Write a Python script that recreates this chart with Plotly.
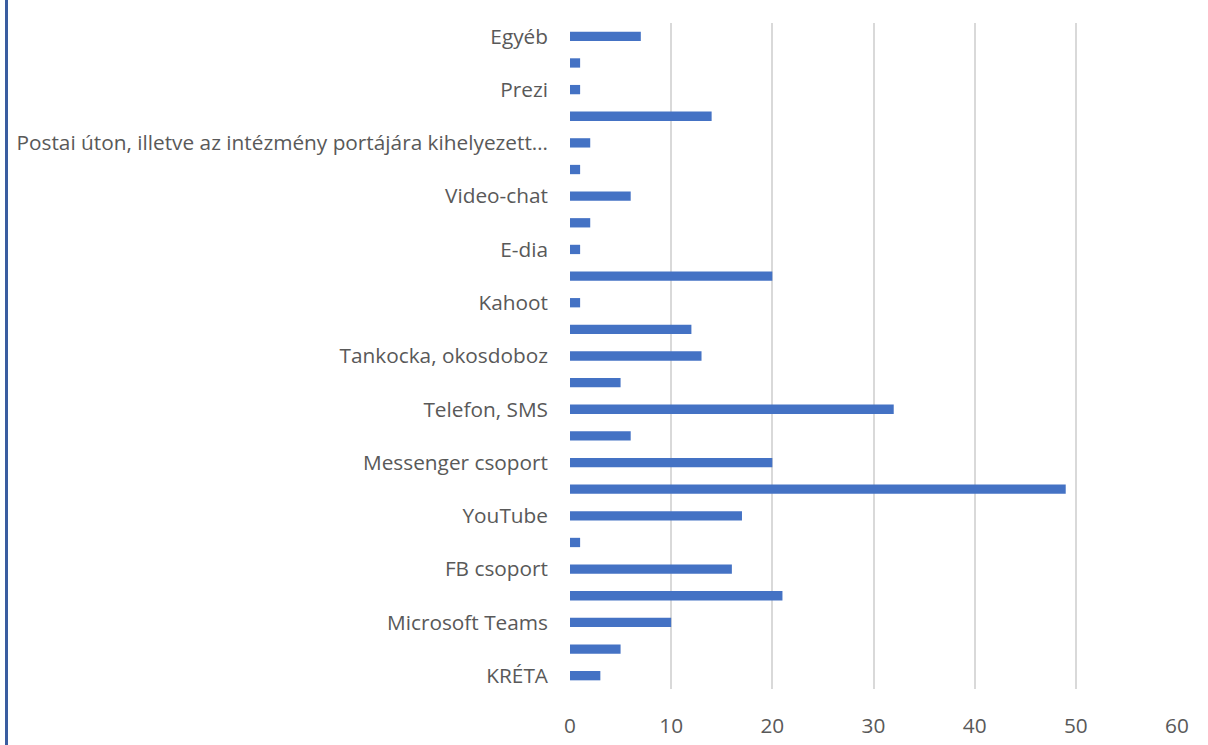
import plotly.graph_objects as go

# Rows from bottom to top; only every other row carries a visible label
labeled_categories = [
    "KRÉTA", "Microsoft Teams", "FB csoport", "YouTube", "Messenger csoport",
    "Telefon, SMS", "Tankocka, okosdoboz", "Kahoot", "E-dia", "Video-chat",
    "Postai úton, illetve az intézmény portájára kihelyezett…", "Prezi", "Egyéb",
]
values = [3, 5, 10, 21, 16, 1, 17, 49, 20, 6, 32, 5, 13, 12, 1, 20, 1, 2, 6, 1, 2, 14, 1, 1, 7]
x_ticks = [0, 10, 20, 30, 40, 50, 60]

positions = list(range(len(values)))
label_positions = positions[::2]

fig = go.Figure(go.Bar(
    x=values, y=positions, orientation="h",
    marker=dict(color="#4472C4", line=dict(width=0)),
    width=0.35,
))

font = dict(family="'Open Sans', sans-serif", size=20.8, color="#595959")

fig.update_layout(
    width=1208, height=745, autosize=False,
    margin=dict(l=570, r=31, t=23, b=56, autoexpand=False),
    plot_bgcolor="white", paper_bgcolor="white",
    showlegend=False, bargap=0.65,
    font=font,
    xaxis=dict(
        range=[0, 60], tickvals=x_ticks, showgrid=True, gridcolor="#D9D9D9",
        gridwidth=1.5, zeroline=False, showline=False, ticks="",
        ticklabelstandoff=22, tickfont=font, automargin=False,
    ),
    yaxis=dict(
        range=[-0.5, len(values) - 0.5], tickvals=label_positions,
        ticktext=labeled_categories, showgrid=False, zeroline=False,
        showline=False, ticks="", ticklabelstandoff=21, tickfont=font,
        automargin=False,
    ),
    shapes=[dict(
        type="line", xref="paper", yref="paper",
        x0=(6.5 - 570) / 607, x1=(6.5 - 570) / 607, y0=-0.2, y1=1.2,
        line=dict(color="#3A5DA0", width=3),
    )],
)

fig.write_html(
    "out.html",
    config={"displayModeBar": False},
    post_script="document.body.style.margin='0';document.body.style.overflow='hidden';",
)
